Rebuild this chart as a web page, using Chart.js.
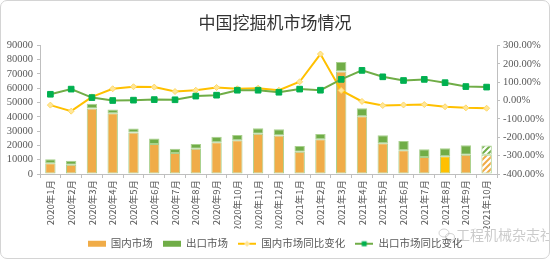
<!DOCTYPE html>
<html>
<head>
<meta charset="utf-8">
<script src="https://cdn.jsdelivr.net/npm/chart.js@4.4.0/dist/chart.umd.min.js"></script>
<style>
  html, body { margin: 0; padding: 0; background: #ffffff; }
  #wrap { position: relative; width: 550px; height: 259px; }
  #frame { position: absolute; left: 0; top: 0; width: 550px; height: 259px; box-sizing: border-box;
           border: 1px solid #d4d4d4; border-radius: 7px; pointer-events: none; }
</style>
</head>
<body>
<div id="wrap">
  <canvas id="c" width="550" height="259"></canvas>
  <div id="frame"></div>
</div>
<script>
const categories = ['2020年1月','2020年2月','2020年3月','2020年4月','2020年5月','2020年6月','2020年7月','2020年8月','2020年9月','2020年10月','2020年11月','2020年12月',
  '2021年1月','2021年2月','2021年3月','2021年4月','2021年5月','2021年6月','2021年7月','2021年8月','2021年9月','2021年10月'];
const domesticSales = [7500, 6500, 45800, 42500, 29000, 21000, 14700, 17700, 22200, 23600, 28200, 26900,
  15600, 24300, 71700, 40400, 21500, 16600, 11900, 12400, 13500, 13500];
const exportSales = [2800, 2800, 3300, 2600, 2800, 3800, 3000, 3300, 3900, 3700, 3800, 4400,
  4000, 3700, 6600, 5600, 5600, 6500, 5400, 5600, 6600, 6400];
const domesticYoY = [-25, -58, 20, 64, 75, 73, 49, 56, 71, 64, 67, 56,
  102, 253, 55, -5, -27, -24, -22, -34, -40, -42];
const exportYoY = [34, 62, 16, 0, 2, 5, 4, 24, 29, 56, 56, 45,
  62, 56, 115, 164, 129, 109, 115, 97, 76, 73];
const seriesNames = ['国内市场', '出口市场', '国内市场同比变化', '出口市场同比变化'];
const chartTitle = '中国挖掘机市场情况';
const watermark = '工程机械杂志社';

const ORANGE = '#F0AC48', GREEN = '#70AD47', YELLOW = '#FFC000', SQ = '#00B050', EDGE = '#A9D18E';

function hatch(color) {
  const c = document.createElement('canvas'); c.width = 6; c.height = 6;
  const g = c.getContext('2d');
  g.fillStyle = '#ffffff'; g.fillRect(0, 0, 6, 6);
  g.strokeStyle = color; g.lineWidth = 2; g.beginPath();
  g.moveTo(-1, 7); g.lineTo(7, -1);
  g.moveTo(-4, 4); g.lineTo(4, -4);
  g.moveTo(2, 10); g.lineTo(10, 2);
  g.stroke();
  return g.createPattern(c, 'repeat');
}
const lastIdx = categories.length - 1;
const augIdx = categories.indexOf('2021年8月');
const domColors = categories.map((_, i) => i === lastIdx ? hatch(ORANGE) : (i === augIdx ? YELLOW : ORANGE));
const expColors = categories.map((_, i) => i === lastIdx ? hatch(GREEN) : GREEN);

function icon(kind) {
  const c = document.createElement('canvas'); c.width = 18; c.height = 10;
  const g = c.getContext('2d');
  if (kind === 0 || kind === 1) {
    g.fillStyle = kind === 0 ? ORANGE : GREEN; g.fillRect(0, 2, 18, 6);
  } else {
    g.strokeStyle = kind === 2 ? YELLOW : GREEN; g.lineWidth = 2;
    g.beginPath(); g.moveTo(0, 5); g.lineTo(18, 5); g.stroke();
    if (kind === 2) {
      g.fillStyle = '#FFE699'; g.beginPath(); g.moveTo(9, 2); g.lineTo(12, 5); g.lineTo(9, 8); g.lineTo(6, 5); g.closePath(); g.fill();
    } else {
      g.fillStyle = SQ; g.fillRect(6.5, 2.5, 5, 5);
    }
  }
  return c;
}
const icons = [icon(0), icon(1), icon(2), icon(3)];

const watermarkPlugin = {
  id: 'wm',
  beforeDraw(chart) {
    const ctx = chart.ctx; ctx.save();
    ctx.fillStyle = 'rgba(160,160,160,0.55)';
    ctx.font = '14px "Noto Sans CJK SC"';
    ctx.textBaseline = 'middle';
    ctx.fillText(watermark, 456, 235);
    ctx.strokeStyle = 'rgba(170,170,170,0.5)'; ctx.lineWidth = 1;
    ctx.beginPath(); ctx.ellipse(444, 233, 5, 4, 0, 0, Math.PI * 2); ctx.stroke();
    ctx.beginPath(); ctx.ellipse(450, 237, 4.5, 3.5, 0, 0, Math.PI * 2); ctx.stroke();
    ctx.restore();
  }
};

const tickFont = { family: '"Liberation Serif", "Noto Sans CJK SC"', size: 10.5 };

new Chart(document.getElementById('c'), {
  data: {
    labels: categories,
    datasets: [
      { type: 'bar', label: seriesNames[0], data: domesticSales, yAxisID: 'y', order: 2,
        backgroundColor: domColors, borderColor: EDGE, borderWidth: 1, borderSkipped: false,
        categoryPercentage: 1, barPercentage: 0.5 },
      { type: 'bar', label: seriesNames[1], data: exportSales, yAxisID: 'y', order: 2,
        backgroundColor: expColors, borderColor: EDGE, borderWidth: 1, borderSkipped: false,
        categoryPercentage: 1, barPercentage: 0.5 },
      { type: 'line', label: seriesNames[2], data: domesticYoY, yAxisID: 'y1', order: 0,
        borderColor: YELLOW, borderWidth: 2, tension: 0,
        pointStyle: 'rectRot', pointRadius: 3, pointBackgroundColor: '#FFE699', pointBorderColor: '#FFD966', pointBorderWidth: 1 },
      { type: 'line', label: seriesNames[3], data: exportYoY, yAxisID: 'y1', order: -1,
        borderColor: GREEN, borderWidth: 2, tension: 0,
        pointStyle: 'rect', pointRadius: 4, pointBackgroundColor: SQ, pointBorderColor: SQ, pointBorderWidth: 1 }
    ]
  },
  options: {
    responsive: false,
    animation: false,
    layout: { padding: { left: 0, right: 0, top: 0, bottom: 0 } },
    plugins: {
      tooltip: { enabled: false },
      title: { display: true, text: chartTitle, color: '#333333',
        font: { family: '"Noto Sans CJK SC"', size: 17, weight: 'normal' },
        padding: { top: 12, bottom: 13 } },
      legend: {
        position: 'bottom',
        labels: {
          color: '#595959', font: { family: '"Liberation Serif", "Noto Sans CJK SC"', size: 10.5 },
          usePointStyle: true, pointStyleWidth: 18, padding: 10,
          generateLabels: (chart) => chart.data.datasets.map((ds, i) => ({
            text: ds.label, pointStyle: icons[i], datasetIndex: i, hidden: false,
            lineWidth: 0, strokeStyle: 'rgba(0,0,0,0)', fillStyle: 'rgba(0,0,0,0)', fontColor: '#595959'
          }))
        }
      }
    },
    scales: {
      x: {
        stacked: true, offset: true,
        grid: { display: true, offset: true, drawOnChartArea: false, drawTicks: true, tickLength: 4, color: '#bfbfbf' },
        border: { color: '#bfbfbf' },
        ticks: { autoSkip: false, maxRotation: 90, minRotation: 90, padding: 2, color: '#595959',
          font: { family: '"Noto Sans CJK SC"', size: 9.5 } },
        afterFit: (s) => { s.height = 54.5; }
      },
      y: {
        type: 'linear', position: 'left', stacked: true, min: 0, max: 90000,
        ticks: { stepSize: 10000, autoSkip: false, color: '#595959', font: tickFont, padding: 4,
          callback: (v) => String(v) },
        grid: { drawOnChartArea: false, tickLength: 3, color: '#bfbfbf' },
        border: { color: '#bfbfbf' },
        afterFit: (s) => { s.width = 40; }
      },
      y1: {
        type: 'linear', position: 'right', min: -400, max: 300,
        ticks: { stepSize: 100, autoSkip: false, color: '#595959', font: tickFont, padding: 3,
          callback: (v) => v.toFixed(2) + '%' },
        grid: { drawOnChartArea: false, tickLength: 3, color: '#bfbfbf' },
        border: { color: '#bfbfbf' },
        afterFit: (s) => { s.width = 53; }
      }
    }
  },
  plugins: [watermarkPlugin]
});
</script>
</body>
</html>
